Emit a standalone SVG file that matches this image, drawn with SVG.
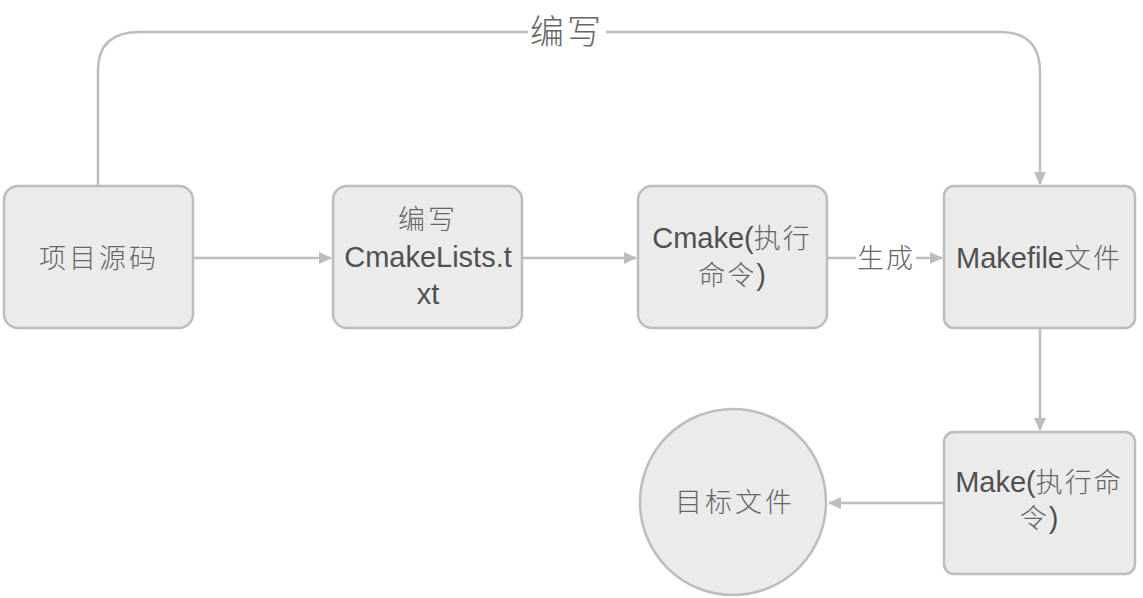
<svg xmlns="http://www.w3.org/2000/svg" width="1143" height="598" viewBox="0 0 1143 598">
<style>
.box{fill:#ebebeb;stroke:#bdbdbd;stroke-width:2.5}
.ln{fill:none;stroke:#bdbdbd;stroke-width:2.5}
.en{font-family:"Liberation Sans",Arial,"Noto Sans CJK SC",sans-serif;font-size:29px;fill:#505050;text-anchor:middle}
.zh{font-family:"Noto Sans CJK SC",sans-serif;font-weight:300;fill:#666;font-size:27px;text-anchor:middle;letter-spacing:3px}
.zt{font-family:"Noto Sans CJK SC",sans-serif;font-weight:300;fill:#666;font-size:27px;letter-spacing:2px}
.lbl{font-family:"Noto Sans CJK SC",sans-serif;font-weight:300;fill:#666;text-anchor:middle}
</style>
<defs>
<marker id="ah" markerWidth="13" markerHeight="12" refX="12" refY="6" orient="auto" markerUnits="userSpaceOnUse" viewBox="0 0 13 12">
<path d="M0,0 L13,6 L0,12 Z" fill="#bdbdbd"/>
</marker>
</defs>
<rect width="1143" height="598" fill="#ffffff"/>
<g id="connectors">
<path class="ln" d="M98,186 L98,70 Q98,32 140,32 L528,32 M606,32 L1000,32 Q1040,32 1040,72 L1040,184" marker-end="url(#ah)"/>
<path class="ln" d="M193,258 L331,258" marker-end="url(#ah)"/>
<path class="ln" d="M522,258 L636,258" marker-end="url(#ah)"/>
<path class="ln" d="M827,258 L856,258 M916,258 L942,258" marker-end="url(#ah)"/>
<path class="ln" d="M1040,328 L1040,430" marker-end="url(#ah)"/>
<path class="ln" d="M944,503 L829,503" marker-end="url(#ah)"/>
<text class="lbl" x="567" y="44" font-size="34" letter-spacing="3">编写</text>
<text class="lbl" x="886" y="268" font-size="27" letter-spacing="2">生成</text>
</g>
<g id="n1">
<rect class="box" x="4" y="186" width="189" height="142" rx="14"/>
<text class="zh" x="99" y="268">项目源码</text>
</g>
<g id="n2">
<rect class="box" x="333" y="186" width="189" height="142" rx="14"/>
<text class="zh" x="428" y="229">编写</text>
<text class="en" x="428" y="267">CmakeLists.t</text>
<text class="en" x="428" y="304">xt</text>
</g>
<g id="n3">
<rect class="box" x="638" y="186" width="189" height="142" rx="14"/>
<text class="en" x="732" y="248">Cmake(<tspan class="zt">执行</tspan></text>
<text class="en" x="732" y="285"><tspan class="zt">命令</tspan>)</text>
</g>
<g id="n4">
<rect class="box" x="944" y="186" width="191" height="142" rx="10"/>
<text class="en" x="1039" y="268">Makefile<tspan class="zt" letter-spacing="1">文件</tspan></text>
</g>
<g id="n5">
<rect class="box" x="944" y="432" width="191" height="142" rx="10"/>
<text class="en" x="1039" y="492">Make(<tspan class="zt">执行命</tspan></text>
<text class="en" x="1039" y="528"><tspan class="zt">令</tspan>)</text>
</g>
<g id="n6">
<circle class="box" cx="733" cy="502" r="93"/>
<text class="zh" x="735" y="512">目标文件</text>
</g>
</svg>
